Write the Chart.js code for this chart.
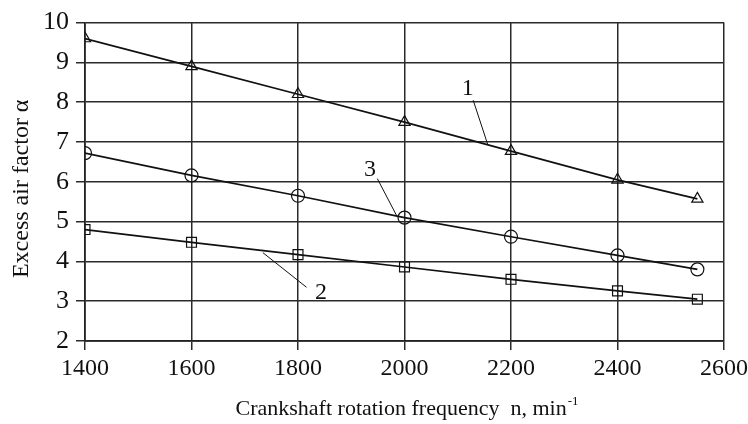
<!DOCTYPE html>
<html>
<head>
<meta charset="utf-8">
<script src="https://cdn.jsdelivr.net/npm/chart.js@4.4.1/dist/chart.umd.min.js"></script>
<style>
  html, body { margin: 0; padding: 0; background: #fff; }
  #wrap { width: 748px; height: 424px; }
</style>
</head>
<body>
<div id="wrap"><canvas id="chart-alpha"></canvas></div>
<script>
// speed points, min^-1
const rpm = [1400, 1600, 1800, 2000, 2200, 2400, 2550];
// excess air factor for each curve
const alpha1 = [9.6, 8.9, 8.2, 7.5, 6.77, 6.05, 5.57];
const alpha2 = [4.8, 4.48, 4.17, 3.86, 3.55, 3.26, 3.05];
const alpha3 = [6.72, 6.16, 5.65, 5.1, 4.62, 4.15, 3.8];
const xTicks = [1400, 1600, 1800, 2000, 2200, 2400, 2600];
const yTicks = [2, 3, 4, 5, 6, 7, 8, 9, 10];
const curveNames = ["1", "2", "3"];

const serif = "'Liberation Serif', 'Times New Roman', serif";
const ink = "#111";

function toPoints(ys) {
    return rpm.map((x, i) => ({ x: x, y: ys[i] }));
}

function series(label, ys, style, size) {
    return {
        label: label,
        data: toPoints(ys),
        borderColor: ink,
        borderWidth: 1.7,
        pointStyle: style,
        pointRadius: size,
        pointBorderWidth: 1.2,
        pointBorderColor: ink,
        pointBackgroundColor: "rgba(255,255,255,0)",
        fill: false,
        tension: 0,
    };
}

// curve numbers with leader lines, in data units
const callouts = [
    { text: curveNames[0], tx: 2119, ty: 8.35, from: [2129, 8.05], to: [2156, 6.95] },
    { text: curveNames[2], tx: 1935, ty: 6.3, from: [1949, 6.08], to: [1986, 5.13] },
    { text: curveNames[1], tx: 1843, ty: 3.22, from: [1816, 3.35], to: [1734, 4.22] },
];

const calloutPlugin = {
    id: "callouts",
    afterDatasetsDraw(chart) {
        const { ctx, scales } = chart;
        const sx = scales.x, sy = scales.y;
        ctx.save();
        ctx.strokeStyle = ink;
        ctx.lineWidth = 1;
        ctx.fillStyle = ink;
        ctx.font = "24px " + serif;
        ctx.textAlign = "center";
        ctx.textBaseline = "middle";
        callouts.forEach((c) => {
            ctx.beginPath();
            ctx.moveTo(sx.getPixelForValue(c.from[0]), sy.getPixelForValue(c.from[1]));
            ctx.lineTo(sx.getPixelForValue(c.to[0]), sy.getPixelForValue(c.to[1]));
            ctx.stroke();
            ctx.fillText(c.text, sx.getPixelForValue(c.tx), sy.getPixelForValue(c.ty));
        });
        ctx.restore();
    },
};

// axis titles (x one has a superscript)
const titlesPlugin = {
    id: "axisTitles",
    afterDraw(chart) {
        const ctx = chart.ctx;
        const area = chart.chartArea;
        const main = "Crankshaft rotation frequency  n, min";
        const sup = "-1";
        ctx.save();
        ctx.fillStyle = ink;
        ctx.textBaseline = "alphabetic";
        ctx.font = "22px " + serif;
        const w1 = ctx.measureText(main).width;
        ctx.font = "13px " + serif;
        const w2 = ctx.measureText(sup).width;
        const cx = (area.left + area.right) / 2;
        let x = cx - (w1 + w2) / 2 + 2;
        const y = 415;
        ctx.font = "22px " + serif;
        ctx.textAlign = "left";
        ctx.fillText(main, x, y);
        ctx.font = "13px " + serif;
        ctx.fillText(sup, x + w1 + 1, y - 10);

        // y title, a little below the middle like the original
        ctx.translate(22, (area.top + area.bottom) / 2 + 7);
        ctx.rotate(-Math.PI / 2);
        ctx.font = "24px " + serif;
        ctx.textAlign = "center";
        ctx.textBaseline = "middle";
        ctx.fillText("Excess air factor α", 0, 0);
        ctx.restore();
    },
};

const ctx1 = document.getElementById("chart-alpha").getContext("2d");

new Chart(ctx1, {
    type: "line",
    data: {
        datasets: [
            series(curveNames[0], alpha1, "triangle", 6.5),
            series(curveNames[1], alpha2, "rect", 7),
            series(curveNames[2], alpha3, "circle", 6.5),
        ],
    },
    options: {
        responsive: true,
        maintainAspectRatio: false,
        animation: false,
        layout: {
            padding: { top: 22, right: 24, bottom: 0, left: 0 },
        },
        plugins: {
            legend: { display: false },
            tooltip: { enabled: false },
        },
        scales: {
            x: {
                type: "linear",
                min: xTicks[0],
                max: xTicks[xTicks.length - 1],
                afterBuildTicks: (scale) => {
                    scale.ticks = xTicks.map((v) => ({ value: v }));
                },
                afterFit: (scale) => {
                    scale.height = 83;
                    scale.paddingRight = 0;
                    scale.paddingLeft = 0;
                },
                border: { display: true, color: "#222", width: 1.7 },
                grid: {
                    color: "#2a2a2a",
                    lineWidth: 1.5,
                    drawTicks: true,
                    tickLength: 9,
                },
                ticks: {
                    color: ink,
                    padding: 4,
                    maxRotation: 0,
                    callback: (v) => String(v),
                    font: { size: 24, family: serif },
                },
                title: { display: false },
            },
            y: {
                type: "linear",
                min: yTicks[0],
                max: yTicks[yTicks.length - 1],
                afterBuildTicks: (scale) => {
                    scale.ticks = yTicks.map((v) => ({ value: v }));
                },
                afterFit: (scale) => {
                    scale.width = 85;
                },
                border: { display: true, color: "#222", width: 1.7 },
                grid: {
                    color: "#2a2a2a",
                    lineWidth: 1.5,
                    drawTicks: true,
                    tickLength: 9,
                },
                ticks: {
                    color: ink,
                    padding: 7,
                    callback: (v) => String(v),
                    font: { size: 26, family: serif },
                },
                title: { display: false },
            },
        },
    },
    plugins: [calloutPlugin, titlesPlugin],
});
</script>
</body>
</html>
